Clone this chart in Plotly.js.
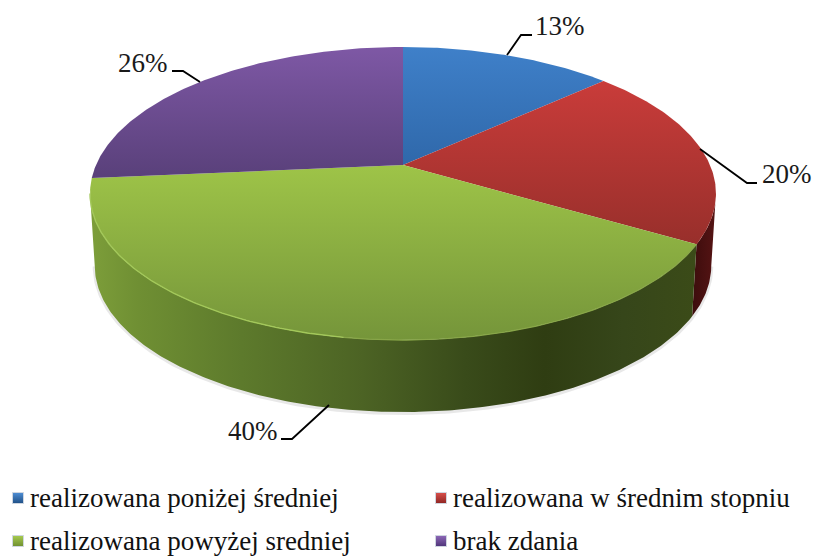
<!DOCTYPE html>
<html><head><meta charset="utf-8">
<script src="https://cdn.plot.ly/plotly-3.0.1.min.js"></script>
<style>html,body{margin:0;padding:0;background:#fff}#c{width:814px;height:556px}</style>
</head><body><div id="c"></div>
<script>
// data
const categories = ["realizowana poniżej średniej","realizowana w średnim stopniu","realizowana powyżej sredniej","brak zdania"];
const values = [13.2,20.2,40,26.4];
const percentLabels = ["13%","20%","40%","26%"];
// styles
const topLight = ["#3f80c9","#c93c3a","#9ec448","#7e58a5"];
const topDark  = ["#2f68aa","#982f2b","#75953a","#59407a"];
const legendLight = ["#4f8fd6","#d9504c","#a8cc50","#8e68b8"];
const legendDark = ["#1f4f85","#8e2522","#6f8f30","#4e3478"];
const FONT = "Liberation Serif, Times New Roman, serif";
// geometry of the tilted disc
const cx=403, cy=165, k=0.1945, A=141, B=307, depth=72, shrink=0.985;
const total = values.reduce((a,b)=>a+b,0);
function px(t){const u=Math.sin(t),v=Math.cos(t);return cx+B*u/(1+k*v);}
function py(t){const v=Math.cos(t);return cy-A*v/(1+k*v);}
function lowX(t){return cx+(px(t)-cx)*shrink;}
function lowY(t){return py(t)+depth;}
function arc(a,b,f){const n=Math.max(2,Math.ceil(Math.abs(b-a)*90));const r=[];for(let i=0;i<=n;i++)r.push(f(a+(b-a)*i/n));return r;}
const visStart=Math.PI-Math.acos(k), visEnd=Math.PI+Math.acos(k);
const traces=[];
// boundaries
const bounds=[0];values.forEach(v=>bounds.push(bounds[bounds.length-1]+v/total*2*Math.PI));
// soft shadow below the wall
const sx=arc(visStart,visEnd,t=>lowX(t)), sy=arc(visStart,visEnd,t=>lowY(t)+1);
traces.push({type:'scatter',mode:'lines',x:sx,y:sy,line:{color:'rgba(150,150,150,0.22)',width:4},hoverinfo:'skip'});
// walls
function wall(a,b,grad){
  const xs=arc(a,b,px).concat(arc(b,a,lowX)), ys=arc(a,b,py).concat(arc(b,a,lowY));
  traces.push({type:'scatter',mode:'lines',x:xs,y:ys,fill:'toself',line:{width:0,color:'rgba(0,0,0,0)'},
    fillgradient:grad,hoverinfo:'skip'});
}
wall(visStart,bounds[2],{type:'horizontal',start:690,stop:716,colorscale:[[0,'#3a0c0c'],[1,'#561414']]});
wall(bounds[2],visEnd,{type:'horizontal',start:90,stop:696,colorscale:[
  [0,'#7d9e3a'],[0.08,'#6f8f33'],[0.25,'#5d7a2c'],[0.45,'#4c6324'],[0.62,'#394b1a'],[0.75,'#2f3d12'],[0.88,'#36461a'],[1,'#3b4b18']]});
// top surface
values.forEach((v,i)=>{
  const a=bounds[i],b=bounds[i+1];
  const xa=arc(a,b,px), ya=arc(a,b,py);
  const ys=ya.concat([cy]);
  traces.push({type:'scatter',mode:'lines',name:categories[i],
    x:xa.concat([cx]),y:ys,fill:'toself',line:{width:0,color:'rgba(0,0,0,0)'},
    fillgradient:{type:'vertical',start:Math.min(...ys),stop:Math.max(...ys),colorscale:[[0,topLight[i]],[1,topDark[i]]]},
    hoverinfo:'skip'});
});
// highlight of the rim on the front edge
const rimMid=Math.PI*1.05;
traces.push({type:'scatter',mode:'lines',x:arc(bounds[2],rimMid,px),y:arc(bounds[2],rimMid,py),
  line:{color:'#88a648',width:1.2},hoverinfo:'skip'});
traces.push({type:'scatter',mode:'lines',x:arc(rimMid,visEnd,px),y:arc(rimMid,visEnd,py),
  line:{color:'#a3c85a',width:1.4},hoverinfo:'skip'});
// legend swatches
const swX=[18,441,18,441], swY=[498,498,541,541], txX=[30,453,30,453];
categories.forEach((c,i)=>traces.push({type:'scatter',mode:'markers',x:[swX[i]],y:[swY[i]],hoverinfo:'skip',
  marker:{symbol:'square',size:11,color:legendLight[i],gradient:{type:'vertical',color:legendDark[i]},line:{color:'#cfd6e0',width:1}}}));

// leader lines
const leaders=[[[507,55],[521,35],[532,35]],[[700,149],[747,183],[757,183]],[[329,405],[292,439],[281,439]],[[200,82],[183,71],[172,71]]];
const labelPos=[[560,26],[787,174],[253,431],[143,63]];
const shapes=leaders.map(p=>({type:'path',xref:'x',yref:'y',path:'M'+p.map(q=>q.join(' ')).join(' L'),line:{color:'#000',width:1.8}}));
const annotations=percentLabels.map((t,i)=>({xref:'x',yref:'y',x:labelPos[i][0],y:labelPos[i][1],text:t,showarrow:false,
  xanchor:'center',yanchor:'middle',font:{family:FONT,size:27,color:'#1a1a1a'}}));
categories.forEach((t,i)=>annotations.push({xref:'x',yref:'y',x:txX[i],y:swY[i],text:t,showarrow:false,
  xanchor:'left',yanchor:'middle',xshift:-2,font:{family:FONT,size:27,color:'#111'}}));
const ax={visible:false,fixedrange:true,showgrid:false,zeroline:false};
Plotly.newPlot('c',traces,{
  width:814,height:556,margin:{l:0,r:0,t:0,b:0},showlegend:false,paper_bgcolor:'#fff',plot_bgcolor:'#fff',
  xaxis:Object.assign({range:[0,814]},ax),yaxis:Object.assign({range:[556,0]},ax),
  shapes:shapes,annotations:annotations
},{displayModeBar:false,staticPlot:true});
</script></body></html>
